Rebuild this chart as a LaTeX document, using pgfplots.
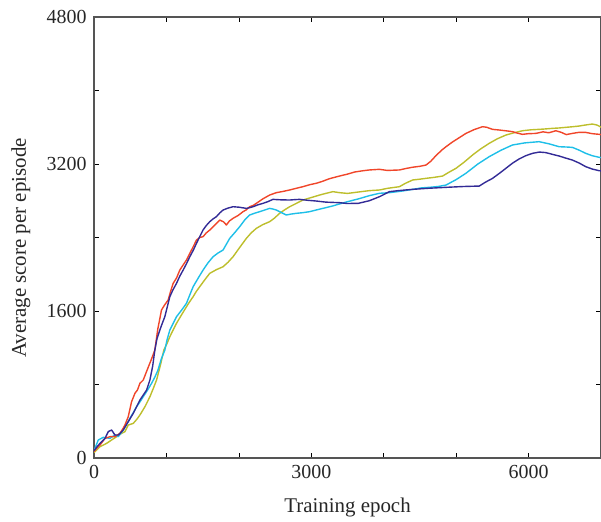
\documentclass[border=0pt]{standalone}
\usepackage{pgfplots}
\pgfplotsset{compat=1.18}
\usepackage{fontspec}
\setmainfont{Liberation Serif}
\definecolor{cblue}{HTML}{332B96}
\definecolor{cred}{HTML}{F0462A}
\definecolor{ccyan}{HTML}{1EBFE8}
\definecolor{cyel}{HTML}{BDBE2C}
\definecolor{axgray}{HTML}{555555}
\begin{document}
\begin{tikzpicture}
\begin{axis}[
  scale only axis, width=507bp, height=441bp,
  xmin=0, xmax=7000, ymin=0, ymax=4800,
  xtick={0,3000,6000}, minor xtick={1000,2000,4000,5000},
  ytick={0,1600,3200,4800}, minor ytick={800,2400,4000},
  tick align=inside, major tick length=5bp, minor tick length=5bp,
  axis line style={draw=axgray, line width=1.6bp},
  every tick/.style={draw=black, line width=0.7bp},
  scaled ticks=false,
  /pgf/number format/set thousands separator={},
  /pgf/number format/assume math mode=true,
  tick label style={font=\fontsize{20}{22}\selectfont, text=black!85},
  xticklabel style={yshift=-4bp},
  yticklabel style={xshift=-4bp},
  xlabel={Training epoch}, ylabel={Average score per episode},
  xlabel style={at={(axis description cs:0.5,-0.112)}, anchor=center, font=\fontsize{21}{23}\selectfont, text=black!85},
  ylabel style={at={(axis description cs:-0.144,0.476)}, anchor=center, font=\fontsize{21}{23}\selectfont, text=black!85},
  every axis plot/.append style={line width=1.4bp, line join=round},
]
\addplot[cyel] coordinates {
(0,60)(83,123)(175,160)(243,196)(312,232)(381,268)(427,287)(473,359)(542,377)(590,420)(634,468)(703,558)(772,667)(820,760)(864,849)(920,1020)(964,1175)(1010,1250)(1047,1320)(1090,1390)(1139,1466)(1210,1560)(1277,1647)(1320,1700)(1369,1756)(1410,1810)(1460,1865)(1530,1940)(1598,2010)(1690,2050)(1782,2082)(1850,2130)(1920,2191)(2010,2290)(2104,2391)(2170,2450)(2242,2500)(2330,2540)(2425,2572)(2490,2610)(2563,2663)(2630,2700)(2701,2735)(2790,2770)(2884,2808)(3000,2835)(3114,2862)(3200,2880)(3298,2899)(3390,2888)(3500,2880)(3650,2895)(3800,2910)(3941,2917)(4050,2935)(4217,2953)(4300,2990)(4400,3026)(4500,3035)(4585,3044)(4700,3055)(4813,3069)(4900,3110)(4998,3153)(5110,3220)(5227,3298)(5340,3365)(5457,3425)(5570,3475)(5687,3515)(5800,3540)(5916,3562)(6030,3572)(6145,3577)(6240,3582)(6330,3588)(6420,3592)(6514,3599)(6600,3605)(6697,3613)(6790,3625)(6881,3635)(6940,3625)(6973,3613)(7000,3600)
};
\addplot[ccyan] coordinates {
(0,80)(59,196)(128,225)(220,214)(289,250)(335,232)(404,305)(450,370)(496,432)(540,490)(588,558)(634,610)(680,667)(740,740)(795,813)(840,880)(880,950)(930,1080)(978,1175)(1010,1290)(1047,1393)(1090,1460)(1139,1538)(1210,1610)(1277,1684)(1320,1770)(1369,1865)(1440,1960)(1506,2046)(1570,2120)(1644,2191)(1710,2230)(1782,2264)(1830,2330)(1874,2391)(1940,2450)(2012,2518)(2080,2590)(2150,2645)(2220,2665)(2287,2681)(2360,2700)(2425,2717)(2470,2710)(2517,2699)(2590,2670)(2655,2645)(2720,2655)(2793,2663)(2880,2670)(2977,2681)(3070,2700)(3160,2717)(3280,2740)(3390,2765)(3500,2790)(3650,2820)(3800,2855)(3941,2881)(4079,2888)(4250,2905)(4400,2924)(4520,2940)(4630,2946)(4750,2955)(4860,2971)(5000,3030)(5135,3099)(5300,3200)(5457,3280)(5620,3350)(5778,3407)(5950,3430)(6145,3443)(6280,3420)(6422,3388)(6520,3385)(6605,3381)(6700,3350)(6789,3316)(6880,3290)(6973,3273)(7000,3270)
};
\addplot[cred] coordinates {
(0,70)(40,110)(83,141)(152,214)(220,232)(289,232)(358,268)(400,320)(427,359)(473,450)(519,613)(565,704)(600,740)(634,813)(680,849)(720,930)(760,1010)(800,1090)(840,1175)(880,1400)(932,1611)(970,1660)(1024,1720)(1060,1820)(1093,1901)(1140,1960)(1185,2046)(1230,2100)(1277,2155)(1323,2228)(1370,2300)(1415,2373)(1460,2400)(1506,2409)(1550,2450)(1598,2481)(1660,2530)(1736,2590)(1790,2570)(1828,2536)(1870,2580)(1920,2609)(1990,2640)(2058,2681)(2100,2700)(2150,2735)(2200,2750)(2242,2772)(2330,2820)(2425,2862)(2517,2888)(2600,2900)(2701,2917)(2790,2935)(2884,2953)(2980,2975)(3069,2990)(3150,3010)(3250,3040)(3390,3069)(3500,3090)(3600,3113)(3700,3125)(3800,3135)(3941,3142)(4050,3130)(4217,3135)(4300,3150)(4400,3165)(4500,3175)(4585,3189)(4650,3230)(4720,3290)(4800,3350)(4860,3388)(4950,3440)(5050,3490)(5135,3533)(5250,3575)(5365,3606)(5420,3600)(5503,3577)(5595,3570)(5700,3560)(5778,3552)(5850,3535)(5916,3523)(6000,3530)(6100,3533)(6200,3550)(6280,3540)(6376,3562)(6450,3545)(6520,3520)(6605,3533)(6700,3545)(6789,3544)(6880,3530)(6973,3523)(7000,3520)
};
\addplot[cblue] coordinates {
(0,80)(40,120)(83,160)(152,214)(197,287)(243,305)(289,250)(335,250)(404,305)(473,395)(542,486)(634,631)(726,740)(772,849)(810,1000)(840,1175)(870,1300)(909,1393)(940,1460)(978,1538)(1010,1640)(1047,1756)(1090,1830)(1139,1901)(1185,1980)(1231,2046)(1280,2120)(1323,2191)(1370,2260)(1415,2337)(1460,2410)(1506,2482)(1550,2530)(1598,2572)(1640,2600)(1690,2627)(1740,2670)(1782,2699)(1850,2720)(1920,2735)(2000,2730)(2104,2717)(2150,2725)(2196,2735)(2260,2755)(2334,2772)(2400,2790)(2471,2815)(2580,2810)(2701,2808)(2770,2812)(2839,2815)(2950,2805)(3069,2797)(3200,2785)(3390,2779)(3500,2770)(3650,2772)(3800,2800)(3941,2844)(4079,2899)(4200,2910)(4400,2924)(4600,2935)(4860,2946)(5100,2955)(5319,2960)(5400,3000)(5503,3044)(5600,3100)(5687,3153)(5780,3210)(5870,3255)(5960,3290)(6054,3316)(6150,3330)(6238,3324)(6330,3305)(6422,3287)(6510,3265)(6605,3243)(6700,3210)(6789,3171)(6880,3145)(6973,3127)(7000,3125)
};
\end{axis}
\pgfresetboundingbox
\path ([xshift=-94bp,yshift=-63bp]current axis.south west) rectangle ([yshift=17bp]current axis.north east);
\end{tikzpicture}
\end{document}
